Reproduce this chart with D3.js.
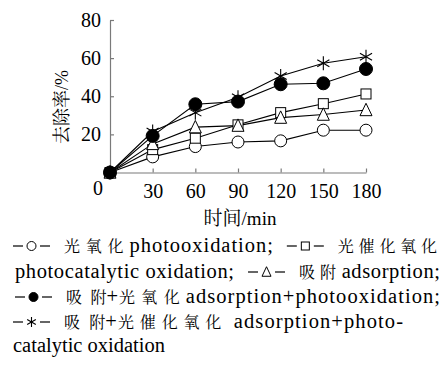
<!DOCTYPE html>
<html>
<head>
<meta charset="utf-8">
<script src="https://cdn.jsdelivr.net/npm/d3@7"></script>
<style>
  body { margin: 0; background: #fff; }
</style>
</head>
<body>
<div id="chart"></div>
<script>
// time points (min)
var times = [0, 30, 60, 90, 120, 150, 180];
var x_ticks = [30, 60, 90, 120, 150, 180];
var y_ticks = [20, 40, 60, 80];

// removal rate (%) for each treatment
var photooxidation = [0, 8.2, 13.6, 16, 16.6, 22.2, 22.2];
var photocatalytic = [0, 12, 18, 25, 31.4, 36.1, 41.2];
var adsorption = [0, 15, 23.8, 24.6, 28.8, 30.4, 32.8];
var ads_photooxidation = [0, 19.2, 35.8, 37.2, 46.3, 46.8, 54.3];
var ads_photocatalytic = [0, 21.5, 31.4, 39.5, 50.6, 57.3, 60.7];

var series = [
  {name: 'photooxidation', values: photooxidation, marker: 'circle'},
  {name: 'photocatalytic', values: photocatalytic, marker: 'square'},
  {name: 'adsorption', values: adsorption, marker: 'triangle'},
  {name: 'ads_photooxidation', values: ads_photooxidation, marker: 'dot'},
  {name: 'ads_photocatalytic', values: ads_photocatalytic, marker: 'star'}
];

// legend rows, as the figure breaks them
var legend_rows = [
  [{marker: 'circle'}, {text: '光氧化 photooxidation;'}, {marker: 'square'}, {text: '光催化氧化'}],
  [{text: 'photocatalytic oxidation;'}, {marker: 'triangle'}, {text: '吸附 adsorption;'}],
  [{marker: 'dot'}, {text: '吸附+光氧化 adsorption+photooxidation;'}],
  [{marker: 'star'}, {text: '吸附+光催化氧化  adsorption+photo-'}],
  [{text: 'catalytic oxidation'}]
];
var legend_right = [437, 440, 440, 403, null];

var width = 442, height = 373;
var axis_colour = '#7a7a7a';
var font = '"Liberation Serif", "Noto Serif CJK SC", serif';
var latin_size = 20.5, cjk_size = 16;

var svg = d3.select('#chart').append('svg')
  .attr('width', width)
  .attr('height', height);

var x = d3.scaleLinear().domain([0, 180]).range([110, 366]);
var y = d3.scaleLinear().domain([0, 80]).range([172.5, 20]);

function draw_marker(g, kind, cx, cy, s) {
  if(kind === 'circle' || kind === 'dot') {
    g.append('circle')
      .attr('cx', cx).attr('cy', cy).attr('r', s / 2)
      .attr('fill', kind === 'dot' ? '#000' : '#fff')
      .attr('stroke', '#000').attr('stroke-width', 1);
  } else if(kind === 'square') {
    g.append('rect')
      .attr('x', cx - s / 2 + 0.5).attr('y', cy - s / 2 + 0.5)
      .attr('width', s - 1).attr('height', s - 1)
      .attr('fill', '#fff').attr('stroke', '#000').attr('stroke-width', 1);
  } else if(kind === 'triangle') {
    var h = s * 0.95;
    g.append('path')
      .attr('d', 'M' + cx + ',' + (cy - h / 2 - 1) + 'L' + (cx + s / 2) + ',' + (cy + h / 2) + 'L' + (cx - s / 2) + ',' + (cy + h / 2) + 'Z')
      .attr('fill', '#fff').attr('stroke', '#000').attr('stroke-width', 1);
  } else if(kind === 'star') {
    var r = s / 2;
    var p = '';
    [90, 30, -30].forEach(function(a) {
      var dx = r * Math.cos(a * Math.PI / 180), dy = r * Math.sin(a * Math.PI / 180);
      p += 'M' + (cx - dx) + ',' + (cy - dy) + 'L' + (cx + dx) + ',' + (cy + dy);
    });
    g.append('path').attr('d', p).attr('stroke', '#000').attr('stroke-width', 1.1).attr('fill', 'none');
  }
}

// axes
var x_axis = svg.append('g')
  .attr('transform', 'translate(0,' + y(0) + ')')
  .call(d3.axisBottom(x).tickValues(x_ticks).tickSizeInner(-4).tickSizeOuter(0).tickPadding(10));
var y_axis = svg.append('g')
  .attr('transform', 'translate(' + x(0) + ',0)')
  .call(d3.axisLeft(y).tickValues(y_ticks).tickSizeInner(-4).tickSizeOuter(0).tickPadding(9));
[x_axis, y_axis].forEach(function(a) {
  a.select('.domain').attr('stroke', axis_colour).attr('stroke-width', 1.2);
  a.selectAll('.tick line').attr('stroke', axis_colour).attr('stroke-width', 1.2);
  a.selectAll('text').attr('font-size', 20).attr('fill', '#000').style('font-family', font);
});
x_axis.selectAll('text').attr('dy', '0.78em');

svg.append('text')
  .attr('x', x(0) - 12).attr('y', y(0) + 22)
  .attr('font-size', 20)
  .attr('text-anchor', 'middle')
  .style('font-family', font)
  .text('0');

// axis titles
svg.append('text')
  .attr('x', 240).attr('y', 225)
  .attr('font-size', 19)
  .attr('text-anchor', 'middle')
  .style('font-family', font)
  .text('时间/min');
svg.append('text')
  .attr('transform', 'translate(68,107) rotate(-90)')
  .attr('font-size', 18)
  .attr('text-anchor', 'middle')
  .style('font-family', font)
  .text('去除率/%');

// lines then markers
var line = d3.line().x(function(d, i) { return x(times[i]); }).y(function(d) { return y(d); });
var plot = svg.append('g').attr('class', 'series');
series.forEach(function(s) {
  plot.append('path')
    .attr('d', line(s.values))
    .attr('fill', 'none')
    .attr('stroke', '#000')
    .attr('stroke-width', 1.1);
});
var marker_size = {circle: 12, square: 11, triangle: 12, dot: 13, star: 14};
series.forEach(function(s) {
  var g = plot.append('g').attr('class', 'markers');
  s.values.forEach(function(v, i) {
    draw_marker(g, s.marker, x(times[i]), y(v), marker_size[s.marker]);
  });
});

// legend: split text into CJK / latin runs, lay out, then justify each row
var leg = svg.append('g').attr('class', 'legend');
var row_y = [252, 278, 303, 328, 352];
var cjk_re = /([\u4e00-\u9fff]+)/;

legend_rows.forEach(function(row, r) {
  var base = row_y[r];
  var items = [];
  row.forEach(function(seg, si) {
    if(seg.marker) {
      items.push({marker: seg.marker, w: 37, gap_before: si === 0 ? 0 : 14, gap_after: 14});
    } else {
      seg.text.split(cjk_re).filter(function(s) { return s.length; }).forEach(function(run) {
        var cjk = cjk_re.test(run);
        var t = leg.append('text')
          .attr('y', base)
          .attr('font-size', cjk ? cjk_size : latin_size)
          .style('font-family', font)
          .style('white-space', 'pre')
          .text(run);
        var n = run.replace(/\s/g, '').length;
        items.push({node: t, cjk: cjk, w: t.node().getComputedTextLength(), weight: cjk ? 4 * n : n});
      });
    }
  });

  var natural = 0, weights = 0;
  items.forEach(function(it) {
    natural += it.w + (it.gap_before || 0) + (it.gap_after || 0);
    if(!it.marker) weights += it.weight;
  });
  var left = r === 0 || r === 3 || r === 4 ? 13 : 15;
  var extra = legend_right[r] ? Math.max(0, legend_right[r] - left - natural) : 0;

  var cx = left;
  items.forEach(function(it) {
    if(it.marker) {
      cx += it.gap_before;
      var my = base - 6;
      leg.append('line').attr('x1', cx).attr('x2', cx + 10).attr('y1', my).attr('y2', my).attr('stroke', '#000').attr('stroke-width', 1.2);
      leg.append('line').attr('x1', cx + 27).attr('x2', cx + 37).attr('y1', my).attr('y2', my).attr('stroke', '#000').attr('stroke-width', 1.2);
      draw_marker(leg, it.marker, cx + 18.5, my, it.marker === 'star' ? 10 : 9);
      cx += it.w + it.gap_after;
    } else {
      var w = it.w + extra * it.weight / weights;
      it.node.attr('x', cx);
      if(w > it.w + 0.5) {
        it.node.attr('textLength', w).attr('lengthAdjust', 'spacing');
      }
      cx += w;
    }
  });
});
</script>
</body>
</html>
